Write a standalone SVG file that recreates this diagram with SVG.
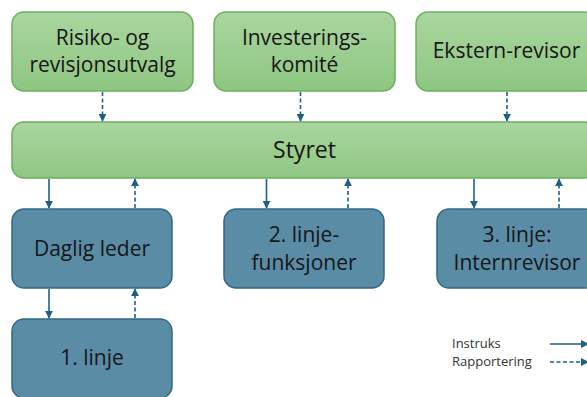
<svg xmlns="http://www.w3.org/2000/svg" width="587" height="397" viewBox="0 0 587 397">
<defs>
<linearGradient id="g" x1="0" y1="0" x2="0" y2="1">
<stop offset="0" stop-color="#a9d69f"/>
<stop offset="1" stop-color="#8ec681"/>
</linearGradient>
<marker id="ah" viewBox="0 0 10 10" refX="9" refY="5" markerWidth="5" markerHeight="5" orient="auto" markerUnits="strokeWidth">
<path d="M0,0 L10,5 L0,10 z" fill="#1d6087"/>
</marker>
<style>
.gn{fill:url(#g);stroke:#6cae5c;stroke-width:1.5}
.bl{fill:#5a8ca6;stroke:#2f6a88;stroke-width:1.5}
.t{font-family:"Open Sans","Liberation Sans",sans-serif;font-size:21px;fill:#161616;text-anchor:middle}
.s{font-family:"Open Sans","Liberation Sans",sans-serif;font-size:13px;fill:#333}
.c{stroke:#1d6087;stroke-width:1.6;fill:none;marker-end:url(#ah)}
.d{stroke-dasharray:4,2.5}
</style>
</defs>
<rect width="587" height="397" fill="#fff"/>
<g id="risiko"><rect class="gn" x="12" y="12" width="181" height="79" rx="12"/>
<text class="t" x="102.5" y="45">Risiko- og</text><text class="t" x="102.5" y="72">revisjonsutvalg</text></g>
<g id="investering"><rect class="gn" x="214" y="12" width="181" height="79" rx="12"/>
<text class="t" x="304.5" y="45">Investerings-</text><text class="t" x="304.5" y="72">komité</text></g>
<g id="ekstern"><rect class="gn" x="416" y="12" width="181" height="79" rx="12"/>
<text class="t" x="506.5" y="58">Ekstern-revisor</text></g>
<g id="styret"><rect class="gn" x="12" y="122" width="585" height="56" rx="12"/>
<text class="t" x="304.5" y="158" style="font-size:23px">Styret</text></g>
<g id="daglig"><rect class="bl" x="12" y="209" width="160" height="79" rx="12"/>
<text class="t" x="92" y="256">Daglig leder</text></g>
<g id="linje2"><rect class="bl" x="224" y="209" width="160" height="79" rx="12"/>
<text class="t" x="304" y="242">2. linje-</text><text class="t" x="304" y="270">funksjoner</text></g>
<g id="linje3"><rect class="bl" x="437" y="209" width="160" height="79" rx="12"/>
<text class="t" x="517" y="242">3. linje:</text><text class="t" x="517" y="270">Internrevisor</text></g>
<g id="linje1"><rect class="bl" x="12" y="319" width="160" height="79" rx="12"/>
<text class="t" x="92" y="365">1. linje</text></g>
<g id="connectors">
<line class="c d" x1="102.5" y1="92" x2="102.5" y2="121"/>
<line class="c d" x1="300.5" y1="92" x2="300.5" y2="121"/>
<line class="c d" x1="507" y1="92" x2="507" y2="121"/>
<line class="c" x1="49" y1="179" x2="49" y2="208"/>
<line class="c d" x1="135" y1="208" x2="135" y2="179"/>
<line class="c" x1="266.5" y1="179" x2="266.5" y2="208"/>
<line class="c d" x1="348" y1="208" x2="348" y2="179"/>
<line class="c" x1="474" y1="179" x2="474" y2="208"/>
<line class="c d" x1="559" y1="208" x2="559" y2="179"/>
<line class="c" x1="49" y1="289" x2="49" y2="318"/>
<line class="c d" x1="135" y1="318" x2="135" y2="289"/>
</g>
<g id="legend">
<text class="s" x="452" y="348">Instruks</text>
<text class="s" x="452" y="366">Rapportering</text>
<line class="c" x1="550" y1="344" x2="588" y2="344"/>
<line class="c d" x1="550" y1="362" x2="588" y2="362"/>
</g>
</svg>
